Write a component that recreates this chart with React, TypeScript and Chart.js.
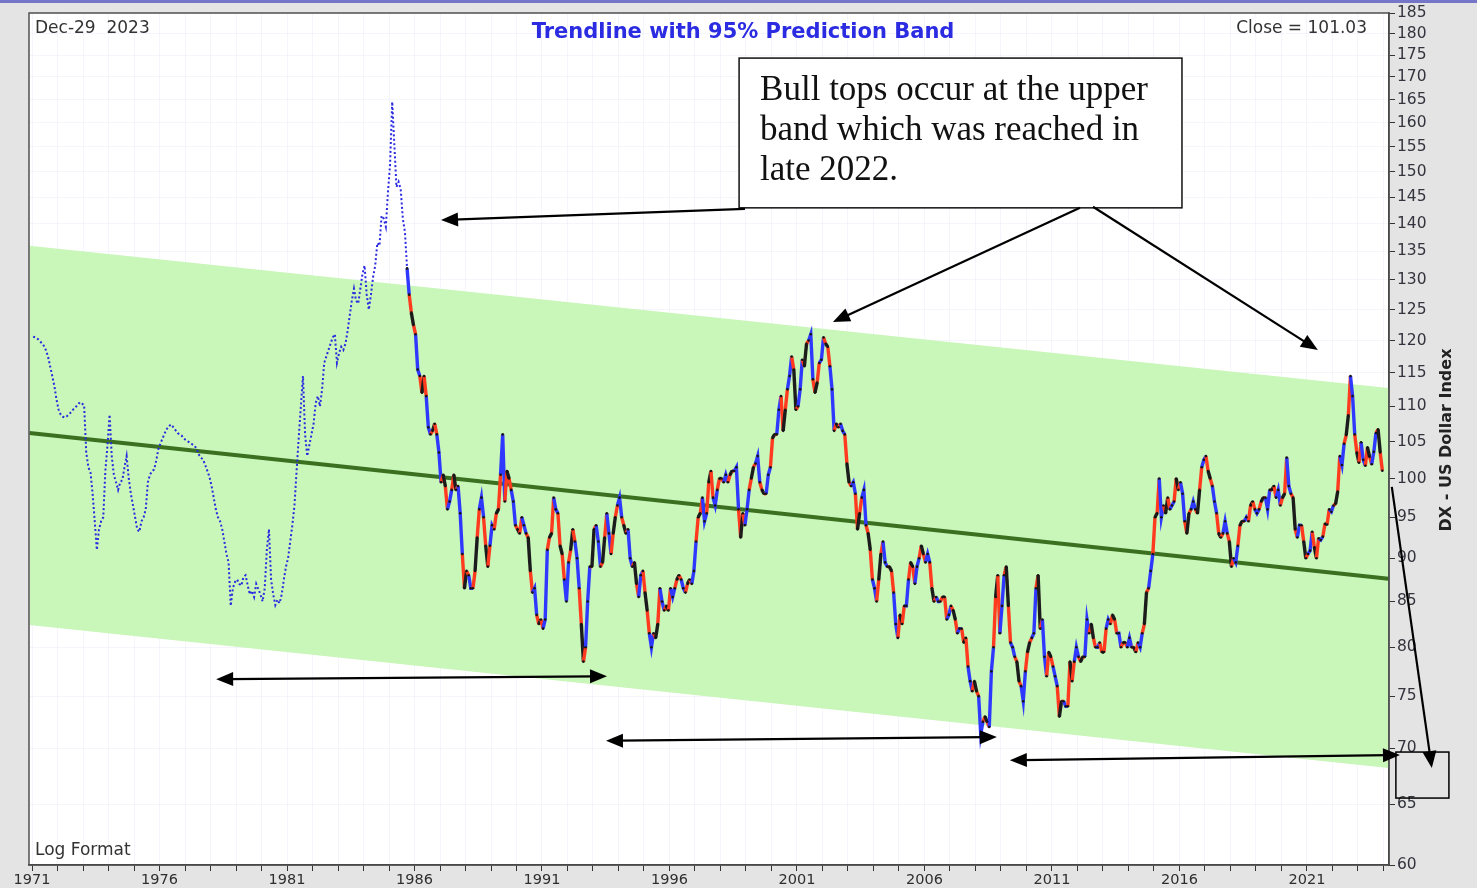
import { useEffect, useRef } from "react";
import { Chart, registerables } from "chart.js";

Chart.register(...registerables);

// ---- Data -----------------------------------------------------------------

// Monthly US Dollar Index levels, Jan 1971 .. Sep 1985 (plotted as a dotted trail)
const DOTS_START_YEAR = 1971;
const dotCloses = [
  120.6, 120.5, 120.3, 120.0, 119.6, 119.2, 118.5, 117.5, 116.0, 114.5, 113.0, 111.0, // 1971
  109.5, 108.8, 108.5, 108.4, 108.6, 108.9, 109.2, 109.6, 109.9, 110.2, 110.6, 110.4, // 1972
  110.2, 103.5, 101.5, 100.8, 98.0, 94.5, 91.0, 93.5, 94.5, 95.0, 101.0, 104.5, // 1973
  108.8, 103.0, 100.5, 99.5, 98.5, 99.5, 99.8, 101.5, 103.0, 100.0, 98.0, 96.5, // 1974
  95.0, 93.5, 93.2, 94.5, 95.0, 96.0, 99.5, 100.5, 101.0, 101.2, 102.5, 104.0, // 1975
  104.8, 105.5, 106.2, 106.8, 107.2, 107.4, 107.0, 106.6, 106.2, 106.0, 105.8, 105.4, // 1976
  105.2, 105.0, 104.8, 104.6, 104.4, 104.0, 103.2, 102.8, 102.5, 101.8, 101.0, 100.2, // 1977
  99.0, 97.5, 96.0, 95.0, 94.5, 93.5, 92.0, 90.5, 89.5, 84.5, 86.5, 87.2, // 1978
  87.5, 87.0, 86.8, 87.8, 88.0, 86.8, 85.8, 86.2, 85.5, 87.0, 86.4, 85.8, // 1979
  85.0, 86.5, 91.0, 93.5, 87.5, 85.8, 84.6, 85.2, 84.8, 85.8, 87.5, 89.0, // 1980
  90.0, 92.0, 94.0, 96.5, 101.0, 105.5, 110.0, 114.5, 106.0, 103.0, 104.5, 106.0, // 1981
  107.5, 110.5, 111.5, 110.0, 112.5, 116.5, 117.5, 118.5, 119.5, 120.5, 121.0, 116.5, // 1982
  118.0, 119.0, 118.5, 119.5, 121.5, 124.0, 126.5, 128.5, 126.5, 126.0, 128.5, 131.0, // 1983
  132.5, 127.5, 125.0, 127.5, 130.5, 132.5, 136.5, 136.0, 141.5, 141.0, 139.5, 146.0, // 1984
  151.5, 164.5, 155.5, 147.0, 148.0, 146.5, 141.0, 138.5, 132.0, // 1985 Jan-Sep
];

// Monthly levels, Sep 1985 .. Dec 2023 (plotted as the coloured price trace)
const BARS_START_YEAR = 1985;
const BARS_START_MONTH = 8; // September
const barCloses = [
  132.0, 127.5, 124.5, 122.5, // 1985 Sep-Dec
  121.0, 115.5, 114.5, 112.0, 114.5, 111.5, 107.0, 106.0, 106.5, 107.5, 106.0, 103.5, // 1986
  99.5, 100.5, 99.0, 96.0, 97.0, 98.5, 100.5, 98.5, 99.0, 95.5, 90.5, 86.5, // 1987
  88.5, 88.0, 86.5, 86.5, 88.5, 92.5, 96.0, 97.5, 95.0, 91.5, 89.0, 91.5, // 1988
  94.0, 93.5, 95.5, 96.0, 100.5, 106.0, 97.0, 101.0, 100.0, 98.5, 97.0, 94.0, // 1989
  93.5, 93.0, 95.0, 94.0, 93.0, 92.5, 88.5, 86.0, 86.5, 83.5, 82.5, 83.0, // 1990
  82.0, 83.0, 91.0, 92.5, 93.0, 97.5, 96.0, 95.5, 91.5, 90.5, 87.5, 85.0, // 1991
  89.5, 91.0, 93.5, 92.0, 90.0, 86.5, 82.5, 78.5, 80.0, 85.0, 89.0, 89.0, // 1992
  93.5, 94.0, 92.0, 89.0, 89.5, 92.5, 95.5, 93.0, 90.5, 93.0, 95.0, 96.5, // 1993
  97.5, 95.0, 94.0, 93.0, 93.5, 90.0, 89.0, 89.5, 87.0, 85.5, 88.0, 88.5, // 1994
  86.0, 84.0, 81.5, 80.0, 81.5, 81.0, 82.5, 86.5, 85.0, 84.0, 84.5, 84.0, // 1995
  86.5, 85.5, 86.5, 87.5, 88.0, 87.5, 86.5, 86.0, 87.0, 87.5, 87.0, 88.5, // 1996
  92.0, 95.0, 95.5, 97.5, 94.5, 95.5, 99.5, 101.0, 97.5, 96.5, 98.5, 100.0, // 1997
  100.0, 99.5, 100.5, 99.5, 100.5, 101.0, 101.0, 101.5, 96.0, 92.5, 95.5, 94.0, // 1998
  96.0, 98.5, 100.0, 101.5, 102.0, 103.0, 99.5, 98.5, 98.0, 98.0, 100.5, 101.5, // 1999
  105.5, 106.0, 106.0, 109.5, 111.5, 106.5, 109.5, 112.5, 114.5, 117.5, 115.5, 109.5, // 2000
  110.0, 112.5, 117.0, 116.0, 119.5, 120.0, 121.0, 114.0, 112.0, 113.5, 116.5, 117.0, // 2001
  120.5, 119.5, 119.0, 116.0, 112.5, 106.5, 107.5, 107.0, 107.5, 106.5, 106.0, 102.0, // 2002
  99.5, 99.0, 99.5, 98.0, 93.5, 95.5, 97.5, 98.5, 94.0, 93.0, 91.0, 87.5, // 2003
  86.5, 85.0, 87.5, 90.5, 92.0, 89.5, 89.0, 89.0, 88.5, 86.0, 82.5, 81.0, // 2004
  83.5, 82.5, 84.5, 84.5, 87.5, 89.5, 89.0, 87.0, 89.0, 90.0, 91.5, 90.5, // 2005
  89.5, 90.5, 89.5, 86.5, 85.0, 85.5, 85.0, 85.0, 85.5, 85.5, 83.0, 83.5, // 2006
  84.5, 84.0, 83.0, 81.5, 82.0, 82.0, 80.5, 81.0, 78.0, 76.5, 75.5, 76.5, // 2007
  75.5, 75.0, 71.3, 72.5, 73.0, 72.5, 72.0, 77.5, 80.0, 85.5, 88.0, 81.5, // 2008
  84.5, 88.0, 89.0, 84.5, 80.5, 80.0, 79.0, 78.5, 76.5, 76.0, 74.5, 77.5, // 2009
  79.5, 80.5, 81.0, 81.5, 86.5, 88.0, 82.0, 83.0, 79.0, 77.0, 79.5, 79.0, // 2010
  78.0, 77.0, 76.0, 73.0, 74.5, 74.5, 74.0, 74.0, 78.5, 76.5, 78.5, 80.0, // 2011
  79.0, 78.5, 79.0, 79.0, 83.0, 81.5, 82.5, 81.0, 80.0, 80.0, 80.5, 79.5, // 2012
  79.5, 82.0, 83.0, 82.5, 83.5, 83.0, 81.5, 81.5, 80.0, 80.5, 80.5, 80.0, // 2013
  81.0, 80.0, 80.0, 79.5, 80.5, 80.0, 81.5, 82.5, 86.0, 86.5, 88.5, 90.5, // 2014
  95.0, 95.5, 100.0, 95.0, 96.5, 95.5, 97.5, 96.0, 96.5, 97.0, 100.0, 98.5, // 2015
  99.5, 98.0, 94.5, 93.0, 95.5, 96.0, 97.0, 96.0, 95.5, 98.5, 101.5, 102.5, // 2016
  103.0, 101.0, 100.0, 99.0, 97.0, 95.5, 93.0, 92.5, 93.0, 94.5, 93.0, 92.0, // 2017
  89.0, 90.0, 89.5, 91.5, 94.0, 94.5, 94.5, 95.0, 94.5, 96.5, 97.0, 96.0, // 2018
  95.5, 96.0, 97.0, 97.5, 97.5, 96.0, 98.5, 98.5, 99.0, 97.5, 98.5, 96.5, // 2019
  97.5, 98.0, 102.8, 99.0, 98.0, 97.5, 93.5, 92.5, 94.0, 94.0, 92.0, 90.0, // 2020
  90.5, 90.9, 93.2, 91.3, 90.0, 92.4, 92.2, 92.6, 94.2, 94.1, 96.0, 95.7, // 2021
  96.5, 96.7, 98.3, 103.0, 101.8, 104.7, 105.9, 108.7, 114.5, 111.5, 106.0, 103.5, // 2022
  102.1, 104.9, 102.5, 101.7, 104.2, 102.9, 101.9, 103.6, 106.2, 106.7, 103.5, 101.03, // 2023
];

// Log-linear trendline and its 95% prediction band (endpoints)
const bandYears = [1970.9, 2024.2];
const upperBand = [136.0, 112.7];
const trendLine = [106.2, 87.6];
const lowerBand = [82.4, 68.2];

// Axes
const X_MIN = 1970.88;
const X_MAX = 2024.22;
const yearTicks = Array.from({ length: 54 }, (_, i) => 1971 + i);
const xLabelYears = [1971, 1976, 1981, 1986, 1991, 1996, 2001, 2006, 2011, 2016, 2021];
const yTickValues = [60, 65, 70, 75, 80, 85, 90, 95, 100, 105, 110, 115, 120, 125, 130, 135, 140, 145, 150, 155, 160, 165, 170, 175, 180, 185];
const Y_MIN = 60;
const Y_MAX = 185;

// Texts
const dateLabel = "Dec-29  2023";
const chartTitle = "Trendline with 95% Prediction Band";
const yTitle = "DX - US Dollar Index";
const footLabel = "Log Format";
const noteLines = ["Bull tops occur at the upper", "band which was reached in", "late 2022."];

// Annotations in data units: [year, index level]
const noteBox = { from: [1998.73, 174.3], to: [2016.1, 143.0] };
const pointerArrows = [
  { from: [1998.96, 142.8], to: [1987.04, 140.7] },
  { from: [2012.1, 143.0], to: [2002.41, 122.96] },
  { from: [2012.61, 143.2], to: [2021.43, 118.5] },
  { from: [2024.33, 98.9], to: [2025.9, 68.2] },
];
const rangeArrows = [
  { from: [1978.22, 76.7], to: [1993.55, 77.0] },
  { from: [1993.51, 70.7], to: [2008.84, 71.06] },
  { from: [2009.35, 68.9], to: [2024.65, 69.39] },
];
const targetBox = { from: [2024.49, 69.66], to: [2026.57, 65.55] };

// ---- Helpers ----------------------------------------------------------------

const monthlyPoints = (startYear: number, startMonth: number, values: number[]) =>
  values.map((v, i) => ({ x: startYear + (startMonth + i + 0.5) / 12, y: v }));

const endpoints = (values: number[]) => bandYears.map((x, i) => ({ x, y: values[i] }));

// bar-style trace colours, cycled along the series
const traceColors = ["#2f38ff", "#ff3a1e", "#1c1c1c", "#ff3a1e", "#2f38ff"];

function arrowHead(ctx: CanvasRenderingContext2D, x: number, y: number, ang: number) {
  const L = 17;
  const W = 7;
  const cx = Math.cos(ang);
  const sy = Math.sin(ang);
  ctx.beginPath();
  ctx.moveTo(x, y);
  ctx.lineTo(x - L * cx - W * sy, y - L * sy + W * cx);
  ctx.lineTo(x - L * cx + W * sy, y - L * sy - W * cx);
  ctx.closePath();
  ctx.fill();
}

function drawArrow(
  ctx: CanvasRenderingContext2D,
  x0: number,
  y0: number,
  x1: number,
  y1: number,
  both: boolean
) {
  const ang = Math.atan2(y1 - y0, x1 - x0);
  const cx = Math.cos(ang);
  const sy = Math.sin(ang);
  const cut = 12;
  ctx.beginPath();
  ctx.moveTo(both ? x0 + cut * cx : x0, both ? y0 + cut * sy : y0);
  ctx.lineTo(x1 - cut * cx, y1 - cut * sy);
  ctx.stroke();
  arrowHead(ctx, x1, y1, ang);
  if (both) arrowHead(ctx, x0, y0, ang + Math.PI);
}

const decorPlugin = {
  id: "decor",
  beforeDraw(chart: any) {
    const { ctx, chartArea: a, width, height } = chart;
    ctx.save();
    ctx.fillStyle = "#e4e4e4";
    ctx.fillRect(0, 0, width, height);
    ctx.fillStyle = "#7676c8";
    ctx.fillRect(0, 0, width, 3);
    ctx.fillStyle = "#ffffff";
    ctx.fillRect(a.left, a.top, a.right - a.left, a.bottom - a.top);
    ctx.restore();
  },
  afterDraw(chart: any) {
    const { ctx, chartArea: a } = chart;
    const xs = chart.scales.x;
    const ys = chart.scales.y;
    const px = (v: number) => xs.getPixelForValue(v);
    const py = (v: number) => ys.getPixelForValue(v);

    ctx.save();
    // plot frame
    ctx.strokeStyle = "#505050";
    ctx.lineWidth = 1.5;
    ctx.strokeRect(a.left, a.top, a.right - a.left, a.bottom - a.top);

    // corner texts
    ctx.fillStyle = "#333333";
    ctx.font = '17px "DejaVu Sans"';
    ctx.textBaseline = "middle";
    ctx.textAlign = "left";
    ctx.fillText(dateLabel, a.left + 6, a.top + 16);
    ctx.fillText(footLabel, a.left + 6, a.bottom - 14);
    ctx.textAlign = "right";
    const lastClose = barCloses[barCloses.length - 1];
    ctx.fillText("Close = " + lastClose.toFixed(2), a.right - 22, a.top + 16);

    // title
    ctx.textAlign = "center";
    ctx.fillStyle = "#2b2be2";
    ctx.font = 'bold 21px "DejaVu Sans"';
    ctx.fillText(chartTitle, 743, a.top + 20);

    // rotated axis title
    ctx.save();
    ctx.translate(1447, 440);
    ctx.rotate(-Math.PI / 2);
    ctx.fillStyle = "#222222";
    ctx.font = 'bold 16px "DejaVu Sans"';
    ctx.fillText(yTitle, 0, 0);
    ctx.restore();

    // note box
    const bx0 = px(noteBox.from[0]);
    const by0 = py(noteBox.from[1]);
    const bx1 = px(noteBox.to[0]);
    const by1 = py(noteBox.to[1]);
    ctx.fillStyle = "#ffffff";
    ctx.fillRect(bx0, by0, bx1 - bx0, by1 - by0);
    ctx.strokeStyle = "#111111";
    ctx.lineWidth = 1.5;
    ctx.strokeRect(bx0, by0, bx1 - bx0, by1 - by0);
    ctx.fillStyle = "#111111";
    ctx.font = '35px "Liberation Serif"';
    ctx.textAlign = "left";
    ctx.textBaseline = "alphabetic";
    noteLines.forEach((t, i) => ctx.fillText(t, bx0 + 21, by0 + 42 + i * 40));

    // arrows
    ctx.strokeStyle = "#000000";
    ctx.fillStyle = "#000000";
    ctx.lineWidth = 2.2;
    pointerArrows.forEach((ar) =>
      drawArrow(ctx, px(ar.from[0]), py(ar.from[1]), px(ar.to[0]), py(ar.to[1]), false)
    );
    rangeArrows.forEach((ar) =>
      drawArrow(ctx, px(ar.from[0]), py(ar.from[1]), px(ar.to[0]), py(ar.to[1]), true)
    );

    // target box beside the axis
    const tx0 = px(targetBox.from[0]);
    const ty0 = py(targetBox.from[1]);
    const tx1 = px(targetBox.to[0]);
    const ty1 = py(targetBox.to[1]);
    ctx.lineWidth = 1.5;
    ctx.strokeRect(tx0, ty0, tx1 - tx0, ty1 - ty0);
    ctx.restore();
  },
};

// ---- Component --------------------------------------------------------------

export default function App() {
  const canvasRef = useRef<HTMLCanvasElement | null>(null);

  useEffect(() => {
    if (!canvasRef.current) return;
    const faintGrid = "rgba(200, 212, 235, 0.2)";

    const chart = new Chart(canvasRef.current, {
      type: "line",
      data: {
        datasets: [
          {
            label: "DX bars",
            data: monthlyPoints(BARS_START_YEAR, BARS_START_MONTH, barCloses),
            borderWidth: 3.4,
            borderColor: "#ff3a1e",
            segment: {
              borderColor: (c: any) => traceColors[c.p0DataIndex % traceColors.length],
            },
            pointRadius: 1.3,
            pointBorderWidth: 0,
            pointBackgroundColor: "#141414",
            tension: 0,
            order: 1,
          },
          {
            label: "DX early",
            data: monthlyPoints(DOTS_START_YEAR, 0, dotCloses),
            borderWidth: 2,
            borderColor: "#2a2ae0",
            borderDash: [2, 2.4],
            pointRadius: 0,
            tension: 0,
            order: 2,
          },
          {
            label: "Trendline",
            data: endpoints(trendLine),
            borderColor: "#3a7020",
            borderWidth: 4,
            pointRadius: 0,
            order: 5,
          },
          {
            label: "Upper band",
            data: endpoints(upperBand),
            borderWidth: 0,
            pointRadius: 0,
            backgroundColor: "#c9f6b9",
            fill: "+1",
            order: 10,
          },
          {
            label: "Lower band",
            data: endpoints(lowerBand),
            borderWidth: 0,
            pointRadius: 0,
            order: 11,
          },
        ],
      },
      options: {
        responsive: false,
        devicePixelRatio: 1,
        animation: false,
        events: [],
        layout: { padding: { left: 29, top: 13, right: 0, bottom: 0 } },
        plugins: {
          legend: { display: false },
          tooltip: { enabled: false },
          title: { display: false },
        },
        scales: {
          x: {
            type: "linear",
            position: "bottom",
            min: X_MIN,
            max: X_MAX,
            afterBuildTicks: (s: any) => {
              s.ticks = yearTicks.map((v) => ({ value: v }));
            },
            afterFit: (s: any) => {
              s.height = 23;
            },
            ticks: {
              autoSkip: false,
              maxRotation: 0,
              minRotation: 0,
              padding: 1,
              color: "#2e2e2e",
              font: { family: '"DejaVu Sans"', size: 14.5 },
              callback: (v: any) => (xLabelYears.includes(Number(v)) ? String(v) : ""),
            },
            grid: {
              color: faintGrid,
              tickColor: "#333333",
              tickLength: 6,
              lineWidth: 1,
            },
            border: { color: "#333333", width: 1.5 },
          },
          y: {
            type: "logarithmic",
            position: "right",
            min: Y_MIN,
            max: Y_MAX,
            afterBuildTicks: (s: any) => {
              s.ticks = yTickValues.map((v) => ({ value: v }));
            },
            afterFit: (s: any) => {
              s.width = 88;
            },
            ticks: {
              padding: 2,
              color: "#34343e",
              font: { family: '"DejaVu Sans"', size: 15.5 },
              callback: (v: any) => String(v),
            },
            grid: {
              color: faintGrid,
              tickColor: "#333333",
              tickLength: 6,
              lineWidth: 1,
            },
            border: { color: "#333333", width: 1.5 },
          },
        },
      },
      plugins: [decorPlugin],
    } as any);

    return () => chart.destroy();
  }, []);

  return (
    <div style={{ position: "fixed", left: 0, top: 0, width: 1477, height: 888 }}>
      <canvas ref={canvasRef} width={1477} height={888} style={{ display: "block" }} />
    </div>
  );
}
